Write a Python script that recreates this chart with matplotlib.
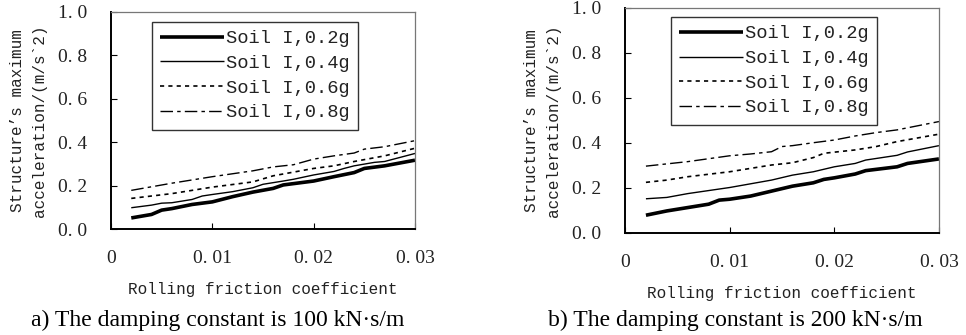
import matplotlib
matplotlib.use("Agg")
import matplotlib.pyplot as plt

# ---- data ----
# panel a) damping constant 100 kN s/m
a_x_02 = [0.002, 0.004, 0.005, 0.006, 0.008, 0.010, 0.012, 0.014, 0.016, 0.017, 0.020, 0.022, 0.024, 0.025, 0.027, 0.030]
a_y_02 = [0.051, 0.067, 0.087, 0.094, 0.113, 0.125, 0.149, 0.170, 0.187, 0.203, 0.221, 0.241, 0.260, 0.279, 0.291, 0.317]
a_x_04 = [0.002, 0.004, 0.005, 0.006, 0.008, 0.009, 0.010, 0.012, 0.014, 0.015, 0.017, 0.018, 0.020, 0.022, 0.023, 0.024, 0.026, 0.027, 0.030]
a_y_04 = [0.098, 0.110, 0.119, 0.121, 0.136, 0.152, 0.159, 0.172, 0.190, 0.206, 0.221, 0.229, 0.249, 0.265, 0.279, 0.291, 0.307, 0.311, 0.348]
a_x_06 = [0.002, 0.006, 0.010, 0.014, 0.016, 0.020, 0.022, 0.024, 0.027, 0.030]
a_y_06 = [0.141, 0.163, 0.193, 0.217, 0.245, 0.279, 0.291, 0.311, 0.337, 0.372]
a_x_08 = [0.002, 0.006, 0.010, 0.014, 0.016, 0.018, 0.020, 0.022, 0.024, 0.025, 0.027, 0.030]
a_y_08 = [0.178, 0.211, 0.241, 0.268, 0.286, 0.296, 0.322, 0.337, 0.350, 0.368, 0.379, 0.407]

# panel b) damping constant 200 kN s/m
b_x_02 = [0.002, 0.004, 0.006, 0.008, 0.009, 0.010, 0.012, 0.014, 0.016, 0.018, 0.019, 0.020, 0.022, 0.023, 0.026, 0.027, 0.030]
b_y_02 = [0.079, 0.098, 0.113, 0.128, 0.146, 0.150, 0.164, 0.186, 0.208, 0.223, 0.238, 0.245, 0.262, 0.277, 0.294, 0.309, 0.329]
b_x_04 = [0.002, 0.004, 0.006, 0.010, 0.014, 0.016, 0.018, 0.020, 0.022, 0.023, 0.026, 0.027, 0.030]
b_y_04 = [0.152, 0.158, 0.175, 0.202, 0.235, 0.257, 0.272, 0.294, 0.309, 0.324, 0.345, 0.360, 0.388]
b_x_06 = [0.002, 0.004, 0.006, 0.010, 0.014, 0.016, 0.018, 0.019, 0.022, 0.024, 0.026, 0.030]
b_y_06 = [0.225, 0.235, 0.250, 0.272, 0.302, 0.312, 0.335, 0.354, 0.369, 0.384, 0.406, 0.439]
b_x_08 = [0.002, 0.006, 0.010, 0.012, 0.014, 0.015, 0.016, 0.018, 0.020, 0.022, 0.024, 0.026, 0.030]
b_y_08 = [0.297, 0.317, 0.343, 0.351, 0.361, 0.384, 0.388, 0.401, 0.413, 0.431, 0.446, 0.458, 0.495]

labels = ["Soil I,0.2g", "Soil I,0.4g", "Soil I,0.6g", "Soil I,0.8g"]
x_ticks = [0, 0.01, 0.02, 0.03]
x_ticklabels = ["0", "0. 01", "0. 02", "0. 03"]
y_ticks = [0.0, 0.2, 0.4, 0.6, 0.8, 1.0]
y_ticklabels = ["0. 0", "0. 2", "0. 4", "0. 6", "0. 8", "1. 0"]
captions = ["a) The damping constant is 100 kN\u00b7s/m", "b) The damping constant is 200 kN\u00b7s/m"]

styles = [dict(lw=2.6, ls="-"),
          dict(lw=1.0, ls="-"),
          dict(lw=1.2, ls=(0, (2.5, 2.5))),
          dict(lw=1.0, ls=(0, (9, 3, 2.5, 3)))]

mono = "Liberation Mono"
serif = "Liberation Serif"
txt = "#222222"

fig = plt.figure(figsize=(9.66, 3.35), dpi=100)
ax_a = fig.add_axes([0.1149, 0.3164, 0.3147, 0.648])
ax_b = fig.add_axes([0.647, 0.3045, 0.325, 0.672])

panels = [(ax_a, [(a_x_02, a_y_02), (a_x_04, a_y_04), (a_x_06, a_y_06), (a_x_08, a_y_08)], (0.135, 0.955)),
          (ax_b, [(b_x_02, b_y_02), (b_x_04, b_y_04), (b_x_06, b_y_06), (b_x_08, b_y_08)], (0.145, 0.96))]

for ax, series, anchor in panels:
    for (xs, ys), st, lab in zip(series, styles, labels):
        ax.plot(xs, ys, color="black", label=lab, solid_capstyle="butt", **st)
    ax.set_xlim(0, 0.03)
    ax.set_ylim(0, 1.0)
    ax.set_xticks(x_ticks)
    ax.set_xticklabels(x_ticklabels, family=serif, fontsize=14, color=txt)
    ax.set_yticks(y_ticks)
    ax.set_yticklabels(y_ticklabels, family=serif, fontsize=14, color=txt)
    ax.tick_params(axis="x", direction="in", length=4, pad=15)
    ax.tick_params(axis="y", direction="in", length=4, pad=17)
    for s in ["left", "bottom"]:
        ax.spines[s].set_linewidth(1.4)
        ax.spines[s].set_color("black")
    for s in ["top", "right"]:
        ax.spines[s].set_linewidth(0.9)
        ax.spines[s].set_color("#777777")
    ax.set_xlabel("Rolling friction coefficient", family=mono, fontsize=11.5, color=txt, labelpad=11)
    ax.set_ylabel("Structure\u2019s maximum\nacceleration/(m/s`2)", family=mono, fontsize=11.5,
                  color=txt, labelpad=8, linespacing=1.6)
    leg = ax.legend(loc="upper left", bbox_to_anchor=anchor,
                    prop={"family": mono, "size": 13.5}, frameon=True, fancybox=False,
                    handlelength=3.4, handletextpad=0.1, labelspacing=0.4,
                    borderpad=0.45, borderaxespad=0)
    leg.get_frame().set_edgecolor("black")
    leg.get_frame().set_linewidth(1.0)
    for t in leg.get_texts():
        t.set_color(txt)

fig.text(0.225, 0.045, captions[0], family=serif, fontsize=17, ha="center", va="center")
fig.text(0.761, 0.045, captions[1], family=serif, fontsize=17, ha="center", va="center")

fig.savefig("out.png", dpi=100)
